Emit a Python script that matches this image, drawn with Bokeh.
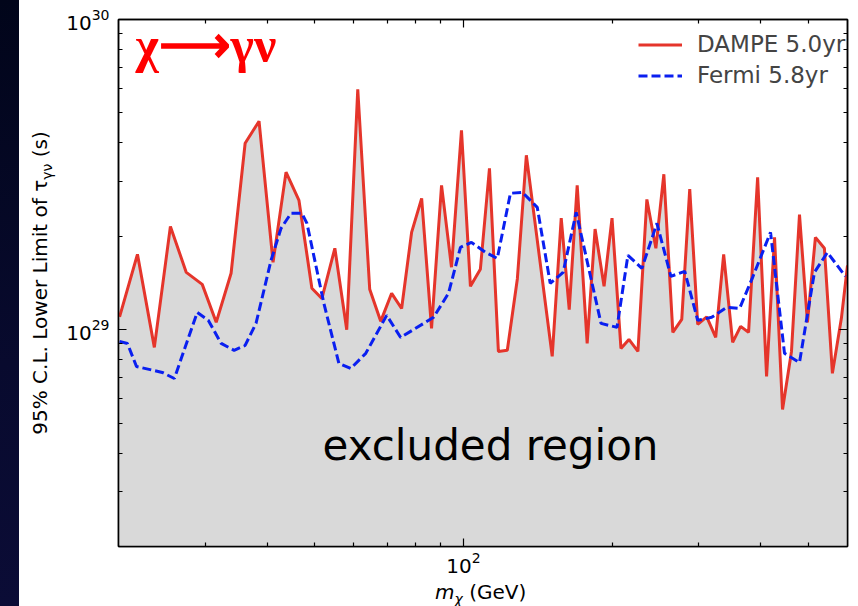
from bokeh.plotting import figure
from bokeh.models import (LogAxis, FixedTicker, Label, Legend, LegendItem, Div,
                          ColumnDataSource, LogTickFormatter, CustomJSTickFormatter)
from bokeh.layouts import row, column
from bokeh.embed import file_html
from bokeh.resources import INLINE

# DAMPE 5.0 yr lower limits (GeV, s)
mass_dampe = [20.1, 21.85, 23.64, 25.48, 27.44, 29.56, 31.55, 33.82, 36.11, 38.53,
              41.13, 43.70, 46.42, 49.30, 51.65, 54.88, 58.01, 61.07, 64.57, 67.97,
              71.53, 74.94, 78.51, 82.28, 86.16, 90.28, 94.57, 99.08, 103.3, 108.2,
              112.9, 117.7, 122.7, 128.6, 134.1, 151.3, 157.8, 163.8, 170.0, 178.1,
              184.8, 192.7, 200.0, 208.5, 216.4, 225.7, 235.3, 245.4, 254.7, 265.6,
              276.9, 287.4, 298.3, 311.1, 324.4, 336.7, 351.1, 364.4, 378.2, 394.5,
              411.3, 426.9, 443.1, 462.0, 479.6, 497.7, 516.6, 538.7, 559.2, 583.1, 600.0]
tau_dampe = [1.10, 1.75, 0.877, 2.15, 1.53, 1.40, 1.056, 1.52, 3.99, 4.70,
             1.65, 3.22, 2.61, 1.36, 1.26, 1.83, 1.00, 5.96, 1.35, 1.064,
             1.31, 1.17, 2.06, 2.65, 1.01, 2.92, 1.59, 4.39, 1.38, 1.565,
             3.31, 0.851, 0.858, 1.46, 3.65, 0.820, 2.29, 1.16, 2.92, 0.903,
             2.11, 1.38, 2.29, 0.870, 0.930, 0.851, 2.63, 1.83, 3.17, 0.980,
             1.08, 2.84, 1.04, 1.10, 0.944, 1.75, 0.910, 1.025, 0.980, 3.10,
             0.707, 1.985, 0.553, 0.851, 2.35, 1.056, 1.985, 1.83, 0.723, 1.088, 1.61]
tau_dampe = [t * 1e29 for t in tau_dampe]

# Fermi 5.8 yr lower limits (GeV, s)
mass_fermi = [20.1, 20.85, 21.75, 24.54, 25.95, 28.88, 30.40, 32.29, 34.30, 36.11,
              37.99, 40.75, 42.69, 44.72, 47.07, 48.18, 52.14, 55.92, 59.11, 63.39,
              69.89, 74.60, 86.97, 93.26, 98.61, 103.8, 110.8, 117.1, 124.5, 131.6,
              141.1, 149.9, 159.2, 169.2, 190.0, 204.7, 215.4, 229.9, 246.6, 263.2,
              280.8, 298.3, 318.4, 341.4, 362.7, 385.4, 419.0, 447.2, 479.6, 514.2,
              546.3, 593.9]
tau_fermi = [0.917, 0.903, 0.761, 0.728, 0.696, 1.137, 1.072, 0.903, 0.858, 0.890,
             1.048, 1.673, 2.122, 2.372, 2.372, 2.202, 1.216, 0.779, 0.750, 0.839,
             1.112, 0.944, 1.096, 1.310, 1.843, 1.912, 1.775, 1.698, 2.753, 2.773,
             2.480, 1.411, 1.530, 2.390, 1.048, 1.017, 1.737, 1.577, 2.202, 1.486,
             1.542, 1.072, 1.096, 1.180, 1.171, 1.475, 2.060, 0.839, 0.784, 1.530,
             1.775, 1.486]
tau_fermi = [t * 1e29 for t in tau_fermi]

x_major = [100]
x_minor = [30, 40, 50, 60, 70, 80, 90, 200, 300, 400, 500]
y_major = [1e29, 1e30]
y_minor = [k * 1e28 for k in range(2, 10)] + [k * 1e29 for k in range(2, 10)]

X_RANGE = (20, 600)
Y_RANGE = (2e28, 1e30)

FONT = "DejaVu Sans"

p = figure(width=796, height=578, x_axis_type="log", y_axis_type="log",
           x_range=X_RANGE, y_range=Y_RANGE, output_backend="svg",
           toolbar_location=None, min_border_left=56, min_border_right=11,
           min_border_top=19, min_border_bottom=32, background_fill_color="white",
           border_fill_color="white")
p.grid.visible = False
p.outline_line_color = "black"
p.outline_line_width = 1.5

src_d = ColumnDataSource(dict(x=mass_dampe, y=tau_dampe, base=[Y_RANGE[0]] * len(mass_dampe)))
src_f = ColumnDataSource(dict(x=mass_fermi, y=tau_fermi))

p.varea(x="x", y1="base", y2="y", source=src_d, fill_color="#d9d9d9")
red = p.line(x="x", y="y", source=src_d, line_color="#e5352b", line_width=3)
blue = p.line(x="x", y="y", source=src_f, line_color="#0a1ff0", line_width=3,
              line_dash="9 4")

xt = FixedTicker(ticks=x_major, minor_ticks=x_minor)
yt = FixedTicker(ticks=y_major, minor_ticks=y_minor)


def style_axis(ax, labels=True):
    ax.axis_line_width = 1.5
    ax.axis_line_color = "black"
    ax.major_tick_in = 8
    ax.major_tick_out = 0
    ax.minor_tick_in = 4
    ax.minor_tick_out = 0
    ax.major_tick_line_width = 1.2
    ax.minor_tick_line_width = 1.2
    if labels:
        ax.major_label_text_font = FONT
        ax.major_label_text_font_size = "20px"
        ax.major_label_text_color = "black"
    else:
        ax.formatter = CustomJSTickFormatter(code="return ''")
        ax.major_label_standoff = 0


xa = p.xaxis[0]
xa.ticker = xt
xa.formatter = LogTickFormatter()
style_axis(xa)
xa.major_label_standoff = 5

ya = p.yaxis[0]
ya.ticker = yt
ya.formatter = LogTickFormatter()
style_axis(ya)
ya.major_label_standoff = 9

top = LogAxis(ticker=xt)
style_axis(top, labels=False)
p.add_layout(top, "above")
right = LogAxis(ticker=yt)
style_axis(right, labels=False)
p.add_layout(right, "right")

legend = Legend(items=[LegendItem(label="DAMPE 5.0yr", renderers=[red]),
                       LegendItem(label="Fermi 5.8yr", renderers=[blue])],
                location=(520, 458), border_line_color=None,
                background_fill_alpha=0, label_text_font=FONT,
                label_text_font_size="23px", glyph_width=44, glyph_height=23,
                label_height=23, label_standoff=15, spacing=5, padding=6,
                margin=0)
p.add_layout(legend)


def add_text(x, y, text, size, color="black", font=FONT, style="normal",
             align="left"):
    p.add_layout(Label(x=x, y=y, x_units="screen", y_units="screen", text=text,
                       text_color=color, text_font=font, text_font_style=style,
                       text_font_size=size, text_align=align,
                       text_baseline="top"))


# decay channel tag and region label (inside the frame)
add_text(17, 530, "χ⟶γν", "50px", color="#ff0000", font="Liberation Serif", style="bold")
add_text(372, 126, "excluded region", "42px", align="center")

# axis titles as HTML text beside the plot
ylabel_html = (
    '<div style="position:relative;width:43px;height:606px;">'
    '<span style="position:absolute;left:50%;top:283px;'
    'transform:translate(-50%,-50%) rotate(-90deg);white-space:nowrap;'
    "font-family:'DejaVu Sans';font-size:20px;color:#000;\">"
    '95% C.L. Lower Limit of τ<sub style="font-size:14px;">γν</sub> (s)</span></div>'
)
xlabel_html = (
    '<div style="position:relative;width:796px;height:28px;">'
    '<span style="position:absolute;left:373px;top:0px;white-space:nowrap;'
    "font-family:'DejaVu Sans';font-size:20px;color:#000;\">"
    '<i>m</i><sub style="font-size:14px;"><i>χ</i></sub> (GeV)</span></div>'
)

ydiv = Div(text=ylabel_html, width=43, height=606, margin=0,
           styles={"background": "white"})
xdiv = Div(text=xlabel_html, width=796, height=28, margin=0,
           styles={"background": "white"})
strip = Div(width=19, height=606, margin=0,
            styles={"background": "linear-gradient(180deg, #01051a 0%, #080a2e 60%, #0b0c36 100%)"})

layout = row(strip, ydiv, column(p, xdiv, spacing=0), spacing=0)
open("out.html", "w").write(file_html(layout, INLINE))
